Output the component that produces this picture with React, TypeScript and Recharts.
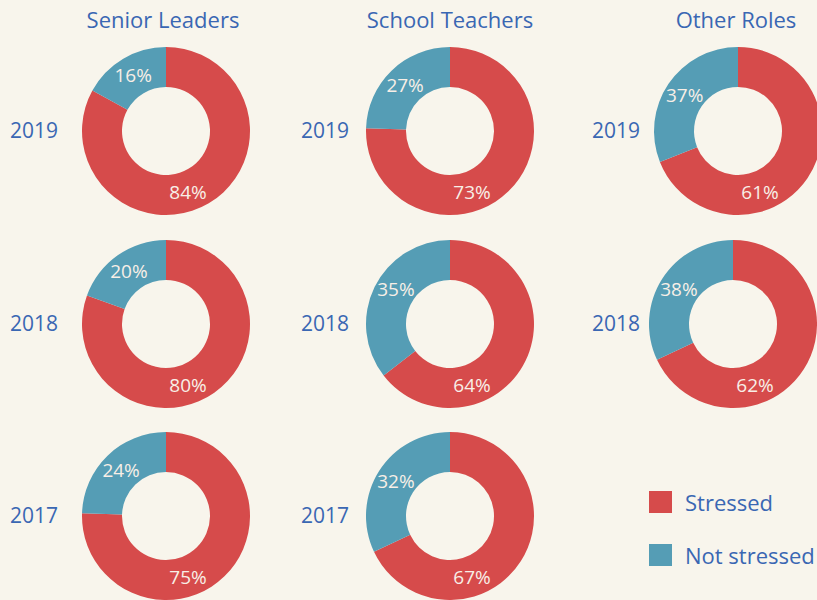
import { PieChart, Pie, Cell } from 'recharts';

const roles = ['Senior Leaders', 'School Teachers', 'Other Roles'];
const years = ['2019', '2018', '2017'];
const seriesNames = ['Stressed', 'Not stressed'];

// printed percentages per role, one entry per year (2019, 2018, 2017)
const seniorStressed = [84, 80, 75];
const seniorNotStressed = [16, 20, 24];
const teacherStressed = [73, 64, 67];
const teacherNotStressed = [27, 35, 32];
const otherStressed = [61, 62];
const otherNotStressed = [37, 38];

// "not stressed" share as the arcs are actually drawn in the picture
const seniorNotStressedArc = [17, 19.5, 24.5];
const teacherNotStressedArc = [24.5, 35.5, 32];
const otherNotStressedArc = [31, 32];

const stressedByRole = [seniorStressed, teacherStressed, otherStressed];
const notStressedByRole = [seniorNotStressed, teacherNotStressed, otherNotStressed];
const arcByRole = [seniorNotStressedArc, teacherNotStressedArc, otherNotStressedArc];

const COLORS = ['#d64b4b', '#559db5'];
const TEXT_BLUE = '#3a67b3';
const BG = '#f8f5ec';
const FONT = '"Open Sans", Lato, sans-serif';

// layout
const COL_X = [[166, 166, 166], [450, 450, 450], [738, 733]];
const ROW_Y = [131, 324, 516];
const YEAR_X = [10, 301, 592];
const OUTER = 84;
const INNER = 44;
const RADIAN = Math.PI / 180;

const renderLabel = (props: any) => {
    const { cx, cy, midAngle, index, payload } = props;
    let angle: number;
    if (index === 0) {
        angle = -70; // stressed label sits low on the ring
    } else {
        const norm = ((midAngle % 360) + 360) % 360;
        angle = Math.min(norm, 147);
    }
    const r = (INNER + OUTER) / 2 + 0.5;
    const x = cx + r * Math.cos(-angle * RADIAN);
    const y = cy + r * Math.sin(-angle * RADIAN);
    return (
        <text x={x} y={y} fill="#f8efe7" fontSize={19} fontWeight={400} fontFamily={FONT} textAnchor="middle" dominantBaseline="central">
            {`${payload.label}%`}
        </text>
    );
};

export default function App() {
    const pies: any[] = [];
    roles.forEach((role, c) => {
        stressedByRole[c].forEach((v, r) => {
            const arc = arcByRole[c][r];
            const data = [
                { name: seriesNames[0], value: 100 - arc, label: v },
                { name: seriesNames[1], value: arc, label: notStressedByRole[c][r] },
            ];
            pies.push(
                <Pie
                    key={`${role}-${years[r]}`}
                    data={data}
                    dataKey="value"
                    nameKey="name"
                    cx={COL_X[c][r]}
                    cy={ROW_Y[r]}
                    innerRadius={INNER}
                    outerRadius={OUTER}
                    startAngle={90}
                    endAngle={-270}
                    stroke="none"
                    labelLine={false}
                    label={renderLabel}
                    isAnimationActive={false}
                >
                    {data.map((entry, i) => (
                        <Cell key={`cell-${i}`} fill={COLORS[i]} />
                    ))}
                </Pie>
            );
        });
    });

    return (
        <div style={{ position: 'absolute', left: 0, top: 0, width: 817, height: 600, background: BG, overflow: 'hidden', fontFamily: FONT, fontWeight: 400, color: TEXT_BLUE }}>
            <PieChart width={817} height={600} margin={{ top: 0, right: 0, bottom: 0, left: 0 }}>
                {pies}
            </PieChart>
            {roles.map((role, c) => (
                <div key={role} style={{ position: 'absolute', left: COL_X[c][0] - 100 - (c === 0 ? 3 : c === 2 ? 2 : 0), top: 4, width: 200, textAlign: 'center', fontSize: 22, lineHeight: '30px' }}>
                    {role}
                </div>
            ))}
            {roles.map((role, c) =>
                stressedByRole[c].map((_, r) => (
                    <div key={`${role}-y-${r}`} style={{ position: 'absolute', left: YEAR_X[c], top: ROW_Y[r] - 16, fontSize: 21, lineHeight: '30px' }}>
                        {years[r]}
                    </div>
                ))
            )}
            <div style={{ position: 'absolute', left: 649, top: 487, fontSize: 22 }}>
                {seriesNames.map((name, i) => (
                    <div key={name} style={{ display: 'flex', alignItems: 'center', height: 30, marginBottom: 23 }}>
                        <span style={{ display: 'inline-block', width: 23, height: 22, background: COLORS[i], marginRight: 13 }} />
                        <span>{name}</span>
                    </div>
                ))}
            </div>
        </div>
    );
}
